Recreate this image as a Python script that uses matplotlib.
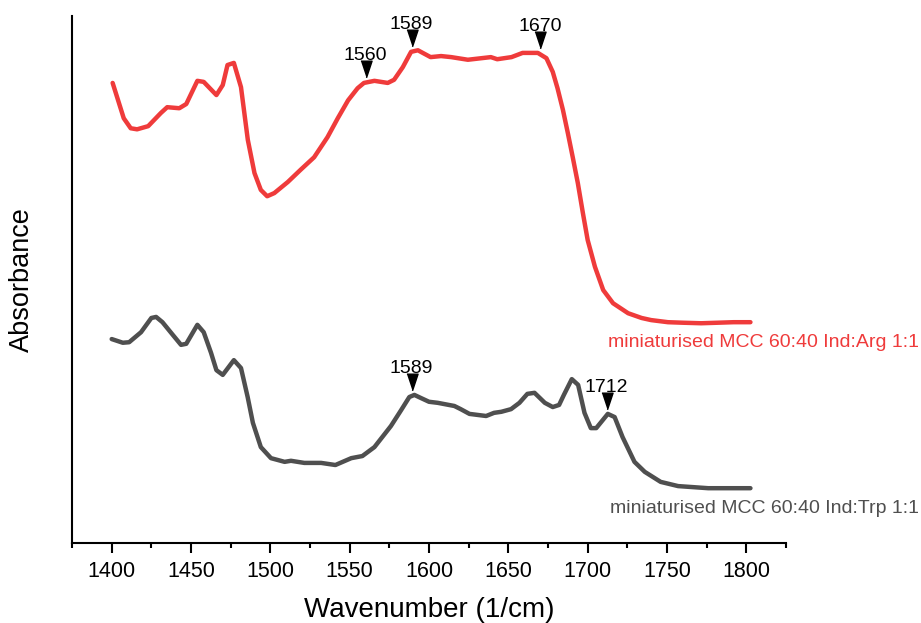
import numpy as np
import matplotlib
matplotlib.use("Agg")
import matplotlib.pyplot as plt
import matplotlib.transforms as mtransforms
from matplotlib.ticker import MultipleLocator

plt.rcParams['font.family'] = ['Liberation Sans', 'DejaVu Sans']

# FTIR spectra (offset, arbitrary absorbance units)
wn_arg = [1400.6, 1407.6, 1412, 1416, 1423, 1431, 1435, 1442.6, 1447, 1454, 1458,
          1466, 1470, 1473, 1477, 1481.5, 1485.8, 1490, 1494, 1498, 1502.5, 1511,
          1519, 1527.6, 1536, 1542.5, 1549, 1555, 1559, 1565.6, 1574, 1578, 1583.5,
          1588.7, 1593, 1601, 1607.6, 1614, 1624.5, 1639, 1643, 1652, 1659, 1668.6,
          1674, 1678, 1681, 1684.4, 1687.5, 1690.6, 1693.8, 1697, 1700, 1704.6,
          1709.8, 1716, 1725.5, 1734, 1740, 1750.6, 1760, 1771.5, 1782, 1792, 1802.6]
abs_arg = [0.873, 0.806, 0.787, 0.785, 0.791, 0.816, 0.827, 0.825, 0.833, 0.877, 0.875,
           0.850, 0.869, 0.907, 0.911, 0.865, 0.765, 0.702, 0.670, 0.658, 0.664, 0.685,
           0.708, 0.732, 0.770, 0.806, 0.840, 0.863, 0.873, 0.877, 0.873, 0.879, 0.903,
           0.932, 0.935, 0.922, 0.924, 0.922, 0.917, 0.922, 0.918, 0.922, 0.930, 0.930,
           0.920, 0.894, 0.863, 0.822, 0.778, 0.732, 0.683, 0.626, 0.575, 0.524,
           0.480, 0.455, 0.436, 0.427, 0.423, 0.419, 0.418, 0.417, 0.418, 0.419, 0.419]

wn_trp = [1400, 1407, 1411, 1418.5, 1425, 1428, 1432, 1438.5, 1443.7, 1447, 1454, 1458,
          1462.6, 1466, 1470, 1477, 1481.5, 1485.7, 1489, 1494, 1500.4, 1509, 1513,
          1521.4, 1532, 1541, 1551, 1558, 1565.6, 1576, 1582.4, 1587.6, 1590.8, 1595,
          1600, 1605.5, 1616, 1620, 1625.5, 1636, 1641, 1645.6, 1651.7, 1657, 1662,
          1666.5, 1673, 1678, 1682, 1685, 1690, 1694, 1698, 1702, 1705.4, 1712.7, 1717,
          1722, 1729.5, 1736, 1746, 1757, 1776, 1792.6, 1802.6]
abs_trp = [0.387, 0.380, 0.381, 0.400, 0.427, 0.429, 0.419, 0.395, 0.376, 0.378, 0.414, 0.400,
           0.361, 0.328, 0.319, 0.347, 0.332, 0.277, 0.228, 0.182, 0.161, 0.154, 0.156,
           0.152, 0.152, 0.148, 0.161, 0.165, 0.182, 0.222, 0.252, 0.277, 0.281, 0.275,
           0.268, 0.266, 0.260, 0.254, 0.245, 0.241, 0.247, 0.249, 0.254, 0.266, 0.283,
           0.285, 0.266, 0.258, 0.262, 0.281, 0.311, 0.300, 0.247, 0.218, 0.218, 0.245, 0.239,
           0.201, 0.154, 0.135, 0.116, 0.108, 0.104, 0.104, 0.104]

peaks_arg = [1560, 1589, 1670]
peaks_trp = [1589, 1712]

label_arg = "miniaturised MCC 60:40 Ind:Arg 1:1"
label_trp = "miniaturised MCC 60:40 Ind:Trp 1:1"

RED = "#EF3B3B"
GRAY = "#4F4F4F"

fig = plt.figure(figsize=(9.21, 6.23), dpi=100)
ax = fig.add_axes([0.0782, 0.1284, 0.7752, 0.8459])

ax.plot(wn_arg, abs_arg, color=RED, lw=3.2, solid_joinstyle='round', solid_capstyle='round')
ax.plot(wn_trp, abs_trp, color=GRAY, lw=3.2, solid_joinstyle='round', solid_capstyle='round')

ax.set_xlim(1375, 1825)
ax.set_ylim(0, 1.0)

# peak markers: narrow downward triangles above the curve, value above
tri = [(-1.0, 1.5), (1.0, 1.5), (0.0, -1.5)]
for peaks, wn, ab in ((peaks_arg, wn_arg, abs_arg), (peaks_trp, wn_trp, abs_trp)):
    for p in peaks:
        yv = np.interp(p, wn, ab)
        tr = mtransforms.offset_copy(ax.transData, fig=fig, x=0, y=14 * 0.72, units='points')
        ax.plot([p], [yv], marker=tri, markersize=12, color='black', transform=tr,
                linestyle='none', clip_on=False)
        ax.annotate(str(p), xy=(p, yv), xytext=(0, 23 * 0.72), textcoords='offset points',
                    ha='center', va='baseline', fontsize=14, color='black')

ax.text(1909, 0.381, label_arg, color=RED, fontsize=14, ha='right', va='center', clip_on=False)
ax.text(1909, 0.066, label_trp, color=GRAY, fontsize=14, ha='right', va='center', clip_on=False)

for s in ('top', 'right'):
    ax.spines[s].set_visible(False)
for s in ('left', 'bottom'):
    ax.spines[s].set_linewidth(1.5)

ax.xaxis.set_major_locator(MultipleLocator(50))
ax.xaxis.set_minor_locator(MultipleLocator(25))
ax.tick_params(axis='x', which='major', direction='out', length=7, width=1.5,
               labelsize=15.5, pad=6)
ax.tick_params(axis='x', which='minor', direction='out', length=3.6, width=1.5)
ax.set_yticks([])

ax.set_xlabel("Wavenumber (1/cm)", fontsize=20, labelpad=11)
ax.set_ylabel("Absorbance", fontsize=19.5, labelpad=27)

fig.savefig("out.png", dpi=100)
